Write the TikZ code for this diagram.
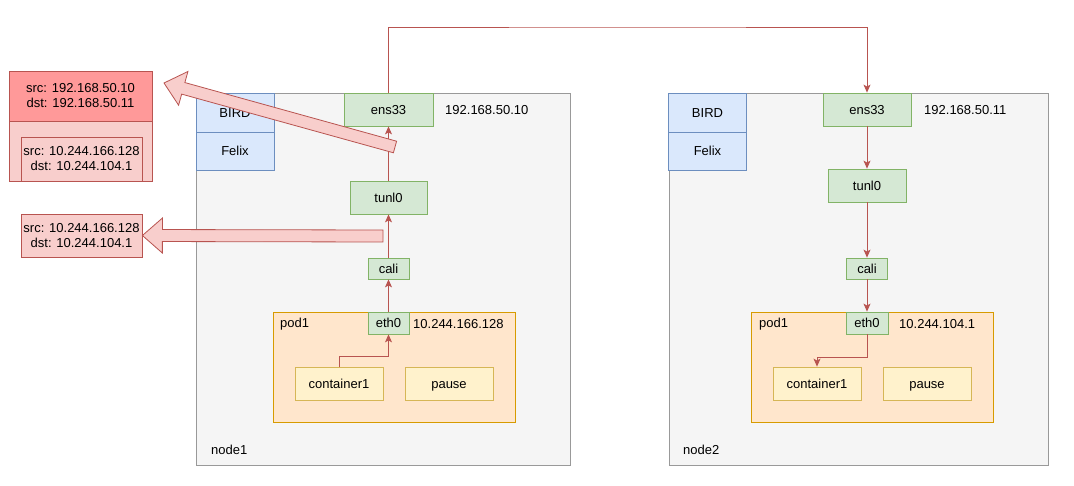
\documentclass[tikz,border=0pt]{standalone}
\usepackage{fontspec}
\setmainfont{Liberation Sans}
\usetikzlibrary{arrows.meta,calc}

\definecolor{hostfill}{HTML}{F5F5F5}
\definecolor{hostline}{HTML}{999999}
\definecolor{bluefill}{HTML}{DAE8FC}
\definecolor{blueline}{HTML}{6C8EBF}
\definecolor{greenfill}{HTML}{D5E8D4}
\definecolor{greenline}{HTML}{82B366}
\definecolor{podfill}{HTML}{FFE6CC}
\definecolor{podline}{HTML}{D79B00}
\definecolor{ctrfill}{HTML}{FFF2CC}
\definecolor{ctrline}{HTML}{D6B656}
\definecolor{redline}{HTML}{B85450}
\definecolor{pktfill}{HTML}{F8CECC}
\definecolor{pkthead}{HTML}{FF9999}

\tikzset{
  box/.style={draw, line width=.8pt, inner sep=0pt, anchor=center},
  host/.style={box, draw=hostline, fill=hostfill},
  svc/.style={box, draw=blueline, fill=bluefill, minimum width=78pt, text height=9.5pt, text depth=0pt},
  nic/.style={box, draw=greenline, fill=greenfill, text height=9.5pt, text depth=0pt},
  podbox/.style={box, draw=podline, fill=podfill, minimum width=242pt, minimum height=110pt},
  ctr/.style={box, draw=ctrline, fill=ctrfill, minimum width=88pt, minimum height=33pt, text height=9.5pt, text depth=0pt},
  lbl/.style={inner sep=0pt, anchor=west},
  flow/.style={draw=redline, line width=.8pt, -{Stealth[length=8pt,width=7pt,inset=2pt]}},
}

% fat arrow from #1 (tail) to #2 (tip)
\newcommand\fatarrow[2]{%
  \coordinate (hb) at ($(#2)!20pt!(#1)$);
  \filldraw[fill=pktfill, draw=redline, line width=.8pt, line join=miter]
    ($(#1)!6pt!90:(#2)$) -- ($(hb)!6pt!-90:(#1)$) -- ($(hb)!17.5pt!-90:(#1)$)
    -- (#2) -- ($(hb)!17.5pt!90:(#1)$) -- ($(hb)!6pt!90:(#1)$)
    -- ($(#1)!6pt!-90:(#2)$) -- cycle;
}

\begin{document}
\begin{tikzpicture}[x=1pt, y=-1pt, every node/.style={font=\fontsize{13}{15}\selectfont}]
  \useasboundingbox (0,0) rectangle (1074,486);

  % node1
  \node[host, minimum width=374pt, minimum height=372pt] (host1) at (383,279) {};
  \node[svc, minimum height=39pt] (bird1) at (235,112.5) {BIRD};
  \node[svc, minimum height=38pt] (felix1) at (235,151) {Felix};
  \node[nic, minimum width=89pt, minimum height=33pt] (ens1) at (388.5,109.5) {ens33};
  \node[lbl] (ip1) at (445,110) {192.168.50.10};
  \node[nic, minimum width=77pt, minimum height=33pt] (tunl1) at (388.5,197.5) {tunl0};
  \node[nic, minimum width=41pt, minimum height=21pt] (cali1) at (388.5,268.5) {cali};
  \node[podbox] (pod1) at (394,367) {};
  \node[lbl] (podname1) at (280,324) {pod1};
  \node[nic, minimum width=41pt, minimum height=22pt] (eth1) at (388.5,323) {eth0};
  \node[lbl] (podip1) at (413,324) {10.244.166.128};
  \node[ctr] (cont1) at (339,383.5) {container1};
  \node[ctr] (pause1) at (449,383.5) {pause};
  \node[lbl] (name1) at (211,450) {node1};

  % node2
  \node[host, minimum width=379pt, minimum height=372pt] (host2) at (858.5,279) {};
  \node[svc, minimum height=39pt] (bird2) at (707.5,112.5) {BIRD};
  \node[svc, minimum height=38pt] (felix2) at (707.5,151) {Felix};
  \node[nic, minimum width=88pt, minimum height=33pt] (ens2) at (867,109.5) {ens33};
  \node[lbl] (ip2) at (924,110) {192.168.50.11};
  \node[nic, minimum width=78pt, minimum height=33pt] (tunl2) at (867,185.5) {tunl0};
  \node[nic, minimum width=41pt, minimum height=21pt] (cali2) at (867,268.5) {cali};
  \node[podbox] (pod2) at (872,367) {};
  \node[lbl] (podname2) at (759,324) {pod1};
  \node[nic, minimum width=42pt, minimum height=22pt] (eth2) at (867,323) {eth0};
  \node[lbl] (podip2) at (899,324) {10.244.104.1};
  \node[ctr] (cont2) at (817,383.5) {container1};
  \node[ctr] (pause2) at (927,383.5) {pause};
  \node[lbl] (name2) at (683,450) {node2};

  % packet path
  \draw[flow] (cont1.north) -- ++(0,-10) -| (eth1.south);
  \draw[flow] (eth1) -- (cali1);
  \draw[flow] (cali1) -- (tunl1);
  \draw[flow] (tunl1) -- (ens1);
  \coordinate (wire) at (627,27);
  \draw[flow] (ens1.north) |- (wire) -| (ens2.north);
  \draw[flow] (ens2) -- (tunl2);
  \draw[flow] (tunl2) -- (cali2);
  \draw[flow] (cali2) -- (eth2);
  \draw[flow] (eth2.south) -- ++(0,23) -| (cont2.north);

  % packets
  \node[box, draw=redline, fill=pkthead, minimum width=143pt, minimum height=50pt, align=center]
    (outer) at (80.5,96) {src: 192.168.50.10\\dst: 192.168.50.11};
  \node[box, draw=redline, fill=pktfill, minimum width=143pt, minimum height=60pt]
    (body) at (80.5,151) {};
  \node[box, draw=redline, fill=pktfill, minimum width=121pt, minimum height=44pt, align=center]
    (inner) at (81.5,159) {src: 10.244.166.128\\dst: 10.244.104.1};
  \node[box, draw=redline, fill=pktfill, minimum width=121pt, minimum height=43pt, align=center]
    (plain) at (81.5,235.5) {src: 10.244.166.128\\dst: 10.244.104.1};

  \coordinate (tail1) at (395,147);
  \coordinate (tip1) at (164,83);
  \fatarrow{tail1}{tip1}
  \coordinate (tail2) at (383,236);
  \coordinate (tip2) at (plain.east);
  \fatarrow{tail2}{tip2}
\end{tikzpicture}
\end{document}
